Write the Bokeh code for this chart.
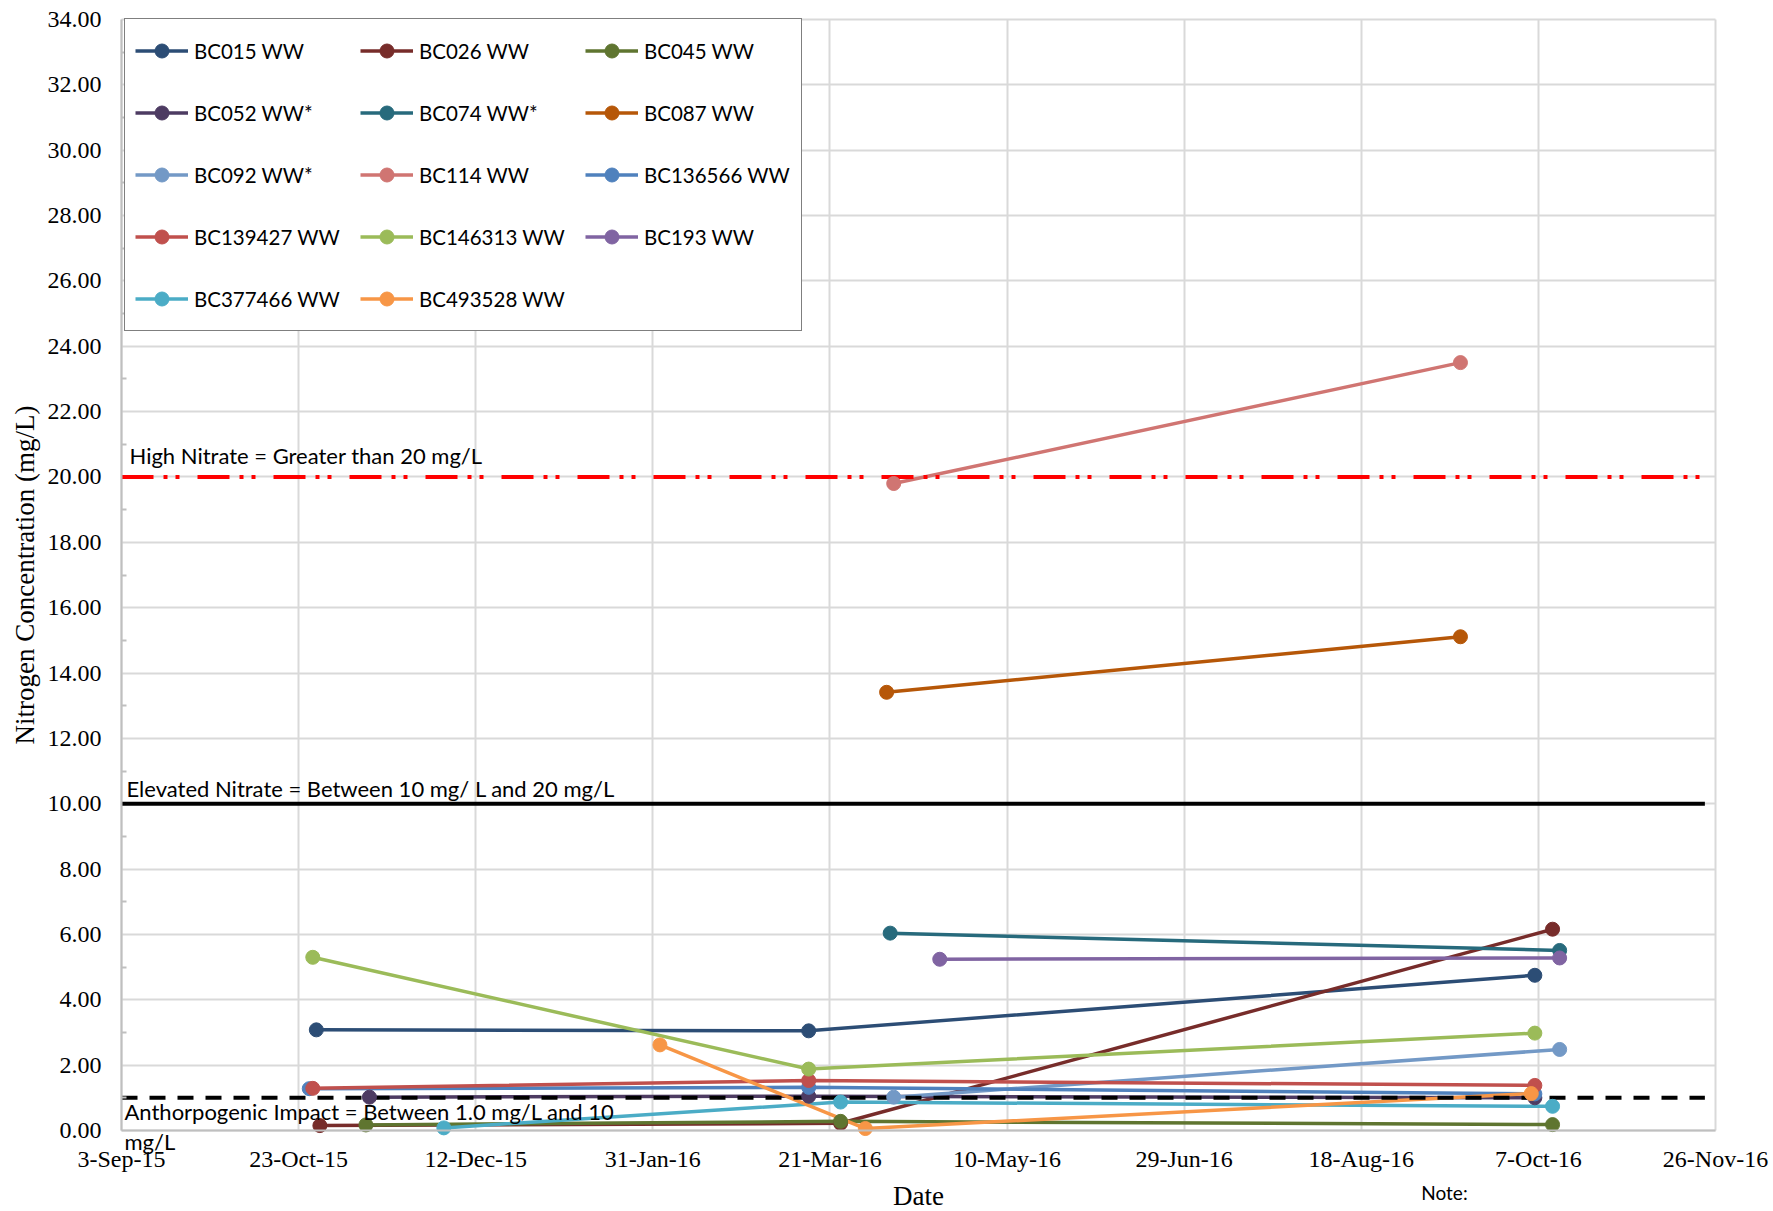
import pandas as pd
from bokeh.plotting import figure
from bokeh.models import (FixedTicker, Legend, LegendItem,
                          Label, PrintfTickFormatter, Range1d)
from bokeh.embed import file_html
from bokeh.resources import INLINE

# ---------------- data ----------------
x_tick_dates = ["2015-09-03", "2015-10-23", "2015-12-12", "2016-01-31", "2016-03-21",
                "2016-05-10", "2016-06-29", "2016-08-18", "2016-10-07", "2016-11-26"]
x_tick_labels = ["3-Sep-15", "23-Oct-15", "12-Dec-15", "31-Jan-16", "21-Mar-16",
                 "10-May-16", "29-Jun-16", "18-Aug-16", "7-Oct-16", "26-Nov-16"]
y_min, y_max, y_step = 0, 34, 2

bc015_dates = ["2015-10-28", "2016-03-15", "2016-10-06"]
bc015_values = [3.08, 3.05, 4.75]
bc026_dates = ["2015-10-29", "2016-03-24", "2016-10-11"]
bc026_values = [0.15, 0.22, 6.16]
bc045_dates = ["2015-11-11", "2016-03-24", "2016-10-11"]
bc045_values = [0.17, 0.28, 0.18]
bc052_dates = ["2015-11-12", "2016-03-15", "2016-10-06"]
bc052_values = [1.02, 1.05, 1.00]
bc074_dates = ["2016-04-07", "2016-10-13"]
bc074_values = [6.04, 5.51]
bc087_dates = ["2016-04-06", "2016-09-15"]
bc087_values = [13.41, 15.11]
bc092_dates = ["2016-04-08", "2016-10-13"]
bc092_values = [1.02, 2.48]
bc114_dates = ["2016-04-08", "2016-09-15"]
bc114_values = [19.80, 23.50]
bc136566_dates = ["2015-10-26", "2016-03-15", "2016-10-06"]
bc136566_values = [1.28, 1.32, 1.12]
bc139427_dates = ["2015-10-27", "2016-03-15", "2016-10-06"]
bc139427_values = [1.29, 1.53, 1.38]
bc146313_dates = ["2015-10-27", "2016-03-15", "2016-10-06"]
bc146313_values = [5.30, 1.88, 2.98]
bc193_dates = ["2016-04-21", "2016-10-13"]
bc193_values = [5.24, 5.28]
bc377466_dates = ["2015-12-03", "2016-03-24", "2016-10-11"]
bc377466_values = [0.08, 0.87, 0.74]
bc493528_dates = ["2016-02-02", "2016-03-31", "2016-10-05"]
bc493528_values = [2.62, 0.06, 1.13]

series_names = ["BC015 WW", "BC026 WW", "BC045 WW", "BC052 WW*", "BC074 WW*", "BC087 WW",
                "BC092 WW*", "BC114 WW", "BC136566 WW", "BC139427 WW", "BC146313 WW",
                "BC193 WW", "BC377466 WW", "BC493528 WW"]
series_dates = [bc015_dates, bc026_dates, bc045_dates, bc052_dates, bc074_dates, bc087_dates,
                bc092_dates, bc114_dates, bc136566_dates, bc139427_dates, bc146313_dates,
                bc193_dates, bc377466_dates, bc493528_dates]
series_values = [bc015_values, bc026_values, bc045_values, bc052_values, bc074_values,
                 bc087_values, bc092_values, bc114_values, bc136566_values, bc139427_values,
                 bc146313_values, bc193_values, bc377466_values, bc493528_values]
series_colors = ["#2C4D75", "#772C2A", "#5F7530", "#4D3B62", "#276A7C", "#B65708",
                 "#7399C6", "#D07572", "#4F81BD", "#C0504D", "#9BBB59", "#8064A2",
                 "#4BACC6", "#F79646"]

threshold_values = [20.0, 10.0, 1.0]
threshold_start = "2015-09-03"
threshold_end = "2016-11-23"
threshold_labels = ["High Nitrate = Greater than 20 mg/L",
                    "Elevated Nitrate = Between 10 mg/ L and 20 mg/L",
                    "Anthorpogenic Impact = Between 1.0 mg/L  and 10",
                    "mg/L"]
note_text = "Note:"
note_anchor_date = "2016-08-18"


def ms(d):
    return float(pd.Timestamp(d).value // 10**6)


x_ticks_ms = [ms(d) for d in x_tick_dates]
y_ticks = list(range(y_min, y_max + 1, y_step))
y_minor = [v + y_step / 2 for v in y_ticks[:-1]]

SERIF = "Liberation Serif"
SANS = "Lato"

# ---------------- layout (pixels) ----------------
W, H = 1773, 1211
AX_L, AX_R, AX_T, AX_B = 121, 1715, 19, 1130   # where the axes sit on the canvas

t0, t1 = x_ticks_ms[0], x_ticks_ms[-1]
ms_per_px = (t1 - t0) / (AX_R - AX_L)
val_per_px = (y_max - y_min) / (AX_B - AX_T)
x_start, x_end = t0 - AX_L * ms_per_px, t1 + (W - AX_R) * ms_per_px
y_start, y_end = y_min - (H - AX_B) * val_per_px, y_max + AX_T * val_per_px

p = figure(width=W, height=H, x_axis_type="datetime",
           x_range=Range1d(x_start, x_end), y_range=Range1d(y_start, y_end),
           output_backend="svg", toolbar_location=None,
           min_border_left=0, min_border_right=0, min_border_top=0, min_border_bottom=0,
           x_axis_label="Date", y_axis_label="Nitrogen Concentration (mg/L)")
p.background_fill_color = "white"
p.border_fill_color = "white"
p.outline_line_color = None

p.xaxis.ticker = FixedTicker(ticks=x_ticks_ms)
p.xaxis.major_label_overrides = {t: lab for t, lab in zip(x_ticks_ms, x_tick_labels)}
p.xaxis.fixed_location = y_min
p.xaxis.bounds = (t0, t1)
p.yaxis.ticker = FixedTicker(ticks=y_ticks, minor_ticks=y_minor)
p.yaxis.formatter = PrintfTickFormatter(format="%.2f")
p.yaxis.fixed_location = t0
p.yaxis.bounds = (y_min, y_max)

p.grid.grid_line_color = "#D9D9D9"
p.grid.grid_line_width = 2
p.xgrid.cross_bounds = (y_min, y_max)
p.ygrid.cross_bounds = (t0, t1)

for ax in p.axis:
    ax.axis_line_color = "#BFBFBF"
    ax.axis_line_width = 2
    ax.major_tick_in = 0
    ax.major_tick_out = 0
    ax.minor_tick_out = 0
    ax.major_label_text_font = SERIF
    ax.major_label_text_font_size = "24px"
    ax.major_label_text_color = "black"
    ax.axis_label_text_font = SERIF
    ax.axis_label_text_font_size = "27px"
    ax.axis_label_text_font_style = "normal"
    ax.axis_label_text_color = "black"
p.yaxis.minor_tick_in = 5
p.yaxis.minor_tick_line_color = "#BFBFBF"
p.yaxis.minor_tick_line_width = 2
p.xaxis.minor_tick_in = 0
p.yaxis.major_label_standoff = 20
p.xaxis.major_label_standoff = 15
p.yaxis.axis_label_standoff = 5
p.xaxis.axis_label_standoff = 6

# series lines
line_rs = []
for dates, vals, color in zip(series_dates, series_values, series_colors):
    xs = [ms(d) for d in dates]
    line_rs.append(p.line(xs, vals, line_color=color, line_width=3.5))

# threshold lines
tx0, tx1 = ms(threshold_start), ms(threshold_end)
p.segment(x0=[tx0], x1=[tx1], y0=[threshold_values[0]], y1=[threshold_values[0]],
          line_color="#FF0000", line_width=4, line_dash="32 10 4 8 4 18")
p.segment(x0=[tx0], x1=[tx1], y0=[threshold_values[1]], y1=[threshold_values[1]],
          line_color="black", line_width=4)
p.segment(x0=[tx0], x1=[tx1], y0=[threshold_values[2]], y1=[threshold_values[2]],
          line_color="black", line_width=4, line_dash="16 12")

# markers
items = []
for name, dates, vals, color, lr in zip(series_names, series_dates, series_values,
                                        series_colors, line_rs):
    xs = [ms(d) for d in dates]
    sr = p.scatter(xs, vals, size=14, marker="circle", fill_color=color, line_color=color)
    items.append(LegendItem(label=name, renderers=[lr, sr]))

legend = Legend(items=items, location=(124, H - 331), orientation="horizontal", ncols=3,
                label_text_font=SANS, label_text_font_size="20.5px", label_text_color="black",
                glyph_width=53, glyph_height=35, label_height=43, label_width=147,
                label_standoff=6, spacing=19, padding=10, margin=0,
                border_line_color="black", border_line_width=1.3,
                background_fill_color="white", background_fill_alpha=1.0)
p.add_layout(legend)


# threshold annotations
def add_note(x, y, text, xo, yo, size="22px"):
    p.add_layout(Label(x=x, y=y, x_offset=xo, y_offset=yo, text=text,
                       text_font=SANS, text_font_size=size, text_color="black",
                       text_baseline="alphabetic"))


add_note(tx0, threshold_values[0], threshold_labels[0], 8, 21)
add_note(tx0, threshold_values[1], threshold_labels[1], 5, 15)
add_note(tx0, threshold_values[2], threshold_labels[2], 3, -14)
add_note(tx0, threshold_values[2], threshold_labels[3], 3, -44)
add_note(ms(note_anchor_date), y_min, note_text, 60, -62, size="19px")

open("out.html", "w").write(file_html(p, INLINE))
